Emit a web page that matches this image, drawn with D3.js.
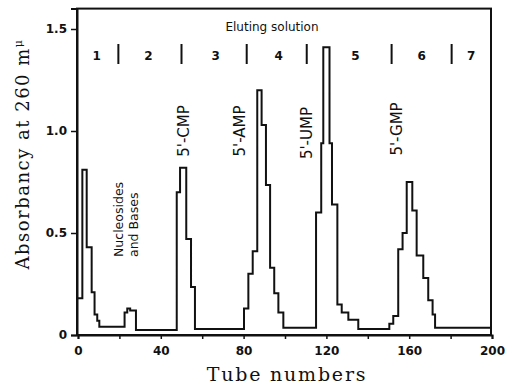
<!DOCTYPE html>
<html>
<head>
<meta charset="utf-8">
<script src="https://cdn.jsdelivr.net/npm/d3@7"></script>
<style>
  body { margin: 0; background: #fff; }
  svg { display: block; }
</style>
</head>
<body>
<div id="chart"></div>
<script>
// step trace: absorbancy level starting at each tube number
const tubeStarts = [0, 2.1, 4.2, 6.6, 8.0, 9.3, 10.3, 22.5, 23.8, 25.2, 28,
  47.7, 49.3, 52.3, 54.6, 56.5,
  80.2, 82.3, 84.4, 86.6, 88.7, 90.8, 92.8, 94.8, 96.8, 99.2,
  115, 117.5, 118.5, 121.5, 122.7, 125.3, 127.4, 130.6, 135.4,
  150.4, 152.3, 154.7, 156.8, 158.8, 161.5, 163.6, 166.8, 169.2, 171.3, 172.5, 200];
const absorbancy = [0.18, 0.81, 0.43, 0.21, 0.10, 0.07, 0.04, 0.11, 0.13, 0.12, 0.025,
  0.70, 0.82, 0.47, 0.235, 0.03,
  0.13, 0.30, 0.41, 1.20, 1.03, 0.735, 0.33, 0.205, 0.11, 0.035,
  0.60, 0.94, 1.41, 0.94, 0.64, 0.15, 0.11, 0.075, 0.03,
  0.055, 0.093, 0.42, 0.50, 0.75, 0.61, 0.39, 0.28, 0.17, 0.10, 0.035, 0.035];

// eluting solution bands
const bandLabels = ["1", "2", "3", "4", "5", "6", "7"];
const bandCenters = [9, 34, 66.5, 97, 134, 166, 190];
const bandDividers = [19.5, 50, 81.5, 110.5, 151.5, 180.5];

// peak names, placed at tube / level of the label centre
const peakNames = ["5'-CMP", "5'-AMP", "5'-UMP", "5'-GMP"];
const peakTubes = [51.2, 78.3, 110.6, 154.1];
const peakLevels = [1.0, 1.0, 0.99, 1.01];

const xTicks = d3.range(0, 201, 20);
const yTicks = [0, 0.5, 1.0, 1.5];

const W = 505, H = 386;
const svg = d3.select("#chart").append("svg")
  .attr("width", W).attr("height", H);

const x = d3.scaleLinear().domain([0, 200]).range([78, 492]);
const y = d3.scaleLinear().domain([0, 1.6]).range([335, 8.6]);

// frame
svg.append("rect")
  .attr("x", 77).attr("y", 8.6)
  .attr("width", 414).attr("height", 326.4)
  .attr("fill", "none").attr("stroke", "#111").attr("stroke-width", 2);

// x axis
const xAxis = svg.append("g")
  .attr("transform", "translate(0,335)")
  .call(d3.axisBottom(x).tickValues(xTicks)
    .tickFormat(d => d % 40 === 0 ? d : "")
    .tickSize(4).tickPadding(7));
xAxis.select(".domain").attr("stroke", "#111").attr("stroke-width", 2);
xAxis.selectAll("line").attr("stroke", "#111").attr("stroke-width", 1.5);
xAxis.selectAll("text")
  .attr("font-family", "DejaVu Sans").attr("font-weight", "bold")
  .attr("font-size", 12).attr("fill", "#111");

// y axis
const yAxis = svg.append("g")
  .attr("transform", "translate(77,0)")
  .call(d3.axisLeft(y).tickValues(yTicks)
    .tickFormat(d => d === 0 ? "0" : d3.format(".1f")(d))
    .tickSize(6).tickPadding(4));
yAxis.select(".domain").attr("stroke", "#111").attr("stroke-width", 2);
yAxis.selectAll("line").attr("stroke", "#111").attr("stroke-width", 1.5);
yAxis.selectAll("text")
  .attr("font-family", "DejaVu Sans").attr("font-weight", "bold")
  .attr("font-size", 12).attr("fill", "#111");

// trace
const trace = tubeStarts.map((t, i) => ({ t: t, a: absorbancy[i] }));
svg.append("path")
  .datum(trace)
  .attr("fill", "none")
  .attr("stroke", "#111")
  .attr("stroke-width", 2)
  .attr("d", d3.line()
    .x(d => x(d.t))
    .y(d => y(d.a))
    .curve(d3.curveStepAfter));

// eluting solution header
svg.append("text")
  .attr("x", 272).attr("y", 31)
  .attr("text-anchor", "middle")
  .attr("font-family", "DejaVu Sans").attr("font-size", 12)
  .attr("fill", "#111")
  .text("Eluting solution");

svg.selectAll(".band")
  .data(bandLabels)
  .enter().append("text")
  .attr("x", (d, i) => x(bandCenters[i]))
  .attr("y", 60)
  .attr("text-anchor", "middle")
  .attr("font-family", "DejaVu Sans").attr("font-weight", "bold")
  .attr("font-size", 12).attr("fill", "#111")
  .text(d => d);

svg.selectAll(".divider")
  .data(bandDividers)
  .enter().append("line")
  .attr("x1", d => x(d)).attr("x2", d => x(d))
  .attr("y1", 44).attr("y2", 64)
  .attr("stroke", "#111").attr("stroke-width", 2);

// peak labels, rotated
svg.selectAll(".peak")
  .data(peakNames)
  .enter().append("text")
  .attr("transform", (d, i) => `translate(${x(peakTubes[i]) + 5},${y(peakLevels[i])}) rotate(-90)`)
  .attr("text-anchor", "middle")
  .attr("font-family", "DejaVu Sans").attr("font-size", 15)
  .attr("fill", "#111")
  .text(d => d);

const nb = svg.append("text")
  .attr("transform", "translate(123,257) rotate(-90)")
  .attr("font-family", "DejaVu Sans").attr("font-size", 12.5)
  .attr("fill", "#111");
nb.append("tspan").attr("x", 0).attr("dy", 0).text("Nucleosides");
nb.append("tspan").attr("x", 0).attr("dy", 15).text("and Bases");

// axis titles
const yt = svg.append("text")
  .attr("transform", "translate(29,154) rotate(-90)")
  .attr("text-anchor", "middle")
  .attr("font-family", "DejaVu Serif").attr("font-size", 18)
  .attr("letter-spacing", 1.5)
  .attr("fill", "#111")
  .text("Absorbancy at 260 m");
yt.append("tspan").attr("font-size", 11).attr("dy", -7).text("μ");

svg.append("text")
  .attr("x", 287).attr("y", 381)
  .attr("text-anchor", "middle")
  .attr("font-family", "DejaVu Serif").attr("font-size", 19)
  .attr("letter-spacing", 1.8)
  .attr("fill", "#111")
  .text("Tube numbers");
</script>
</body>
</html>
